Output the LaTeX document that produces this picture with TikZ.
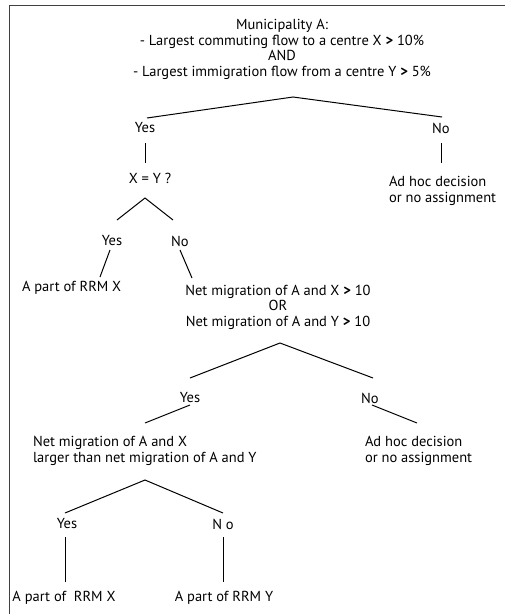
\documentclass[tikz,border=0pt]{standalone}
\usepackage{fontspec}
\setmainfont{PT Sans}
\newcommand{\gtsym}{\textbf{>}}
\begin{document}
\begin{tikzpicture}[x=1pt,y=-1pt,
  lbl/.style={inner sep=0pt, outer sep=0pt, font=\fontsize{14.5}{15.6}\selectfont, text=black},
  ctr/.style={lbl, align=center},
  lft/.style={lbl, align=left, anchor=west},
  conn/.style={draw=black, line width=1pt},
  frame/.style={draw=black!75, line width=1pt}]
\useasboundingbox (0,0) rectangle (505,614);
% frame
\coordinate (fl) at (9,614);
\coordinate (ftl) at (9,5);
\coordinate (ftr) at (505,5);
\draw[frame] (fl) -- (ftl) -- (ftr);

% level 0
\node[ctr] (q0) at (282,49.5) {Municipality A:\\- Largest commuting flow to a centre X \gtsym{} 10\%\\AND\\- Largest immigration flow from a centre Y \gtsym{} 5\%};
\coordinate (a0) at (293,97);
\coordinate (a0l) at (147,118);
\coordinate (a0r) at (442,117);
\draw[conn] (a0l) -- (a0) -- (a0r);
\node[ctr] (y0) at (145,128) {Yes};
\node[ctr] (n0) at (441,128) {No};
\coordinate (y0a) at (145,143); \coordinate (y0b) at (145,163);
\coordinate (n0a) at (441,143); \coordinate (n0b) at (441,163);
\draw[conn] (y0a) -- (y0b);
\draw[conn] (n0a) -- (n0b);
\node[ctr] (q1) at (150,178) {X = Y ?};
\node[lft] (adhoc1) at (389,191) {Ad hoc decision\\or no assignment};

% level 1
\coordinate (a1) at (145,198);
\coordinate (a1l) at (117,220);
\coordinate (a1r) at (173,220);
\draw[conn] (a1l) -- (a1) -- (a1r);
\node[ctr] (y1) at (112,241) {Yes};
\node[ctr] (n1) at (180,241) {No};
\coordinate (y1a) at (110,250); \coordinate (y1b) at (100,277);
\coordinate (n1a) at (180,250); \coordinate (n1b) at (192,278);
\draw[conn] (y1a) -- (y1b);
\draw[conn] (n1a) -- (n1b);
\node[lft] (rrmx1) at (22,288) {A part of RRM X};
\node[ctr] (q2) at (278,307) {Net migration of A and X \gtsym{} 10\\OR\\Net migration of A and Y \gtsym{} 10};

% level 2
\coordinate (a2) at (280,343);
\coordinate (a2l) at (190,378);
\coordinate (a2r) at (373,378);
\draw[conn] (a2l) -- (a2) -- (a2r);
\node[ctr] (y2) at (190,398) {Yes};
\node[ctr] (n2) at (370,398) {No};
\coordinate (y2a) at (190,405); \coordinate (y2b) at (145,423);
\coordinate (n2a) at (372,405); \coordinate (n2b) at (417,423);
\draw[conn] (y2a) -- (y2b);
\draw[conn] (n2a) -- (n2b);
\node[lft] (q3) at (33,451) {Net migration of A and X\\larger than net migration of A and Y};
\node[lft] (adhoc2) at (365,451) {Ad hoc decision\\or no assignment};

% level 3
\coordinate (a3) at (145,480);
\coordinate (a3l) at (65,513);
\coordinate (a3r) at (223,513);
\draw[conn] (a3l) -- (a3) -- (a3r);
\node[ctr] (y3) at (67,524) {Yes};
\node[ctr] (n3) at (223,524) {N o};
\coordinate (y3a) at (65,537); \coordinate (y3b) at (65,582);
\coordinate (n3a) at (223,537); \coordinate (n3b) at (223,582);
\draw[conn] (y3a) -- (y3b);
\draw[conn] (n3a) -- (n3b);
\node[ctr] (rrmx2) at (64,598) {A part of\ \ RRM X};
\node[ctr] (rrmy) at (224,598) {A part of RRM Y};
\end{tikzpicture}
\end{document}
